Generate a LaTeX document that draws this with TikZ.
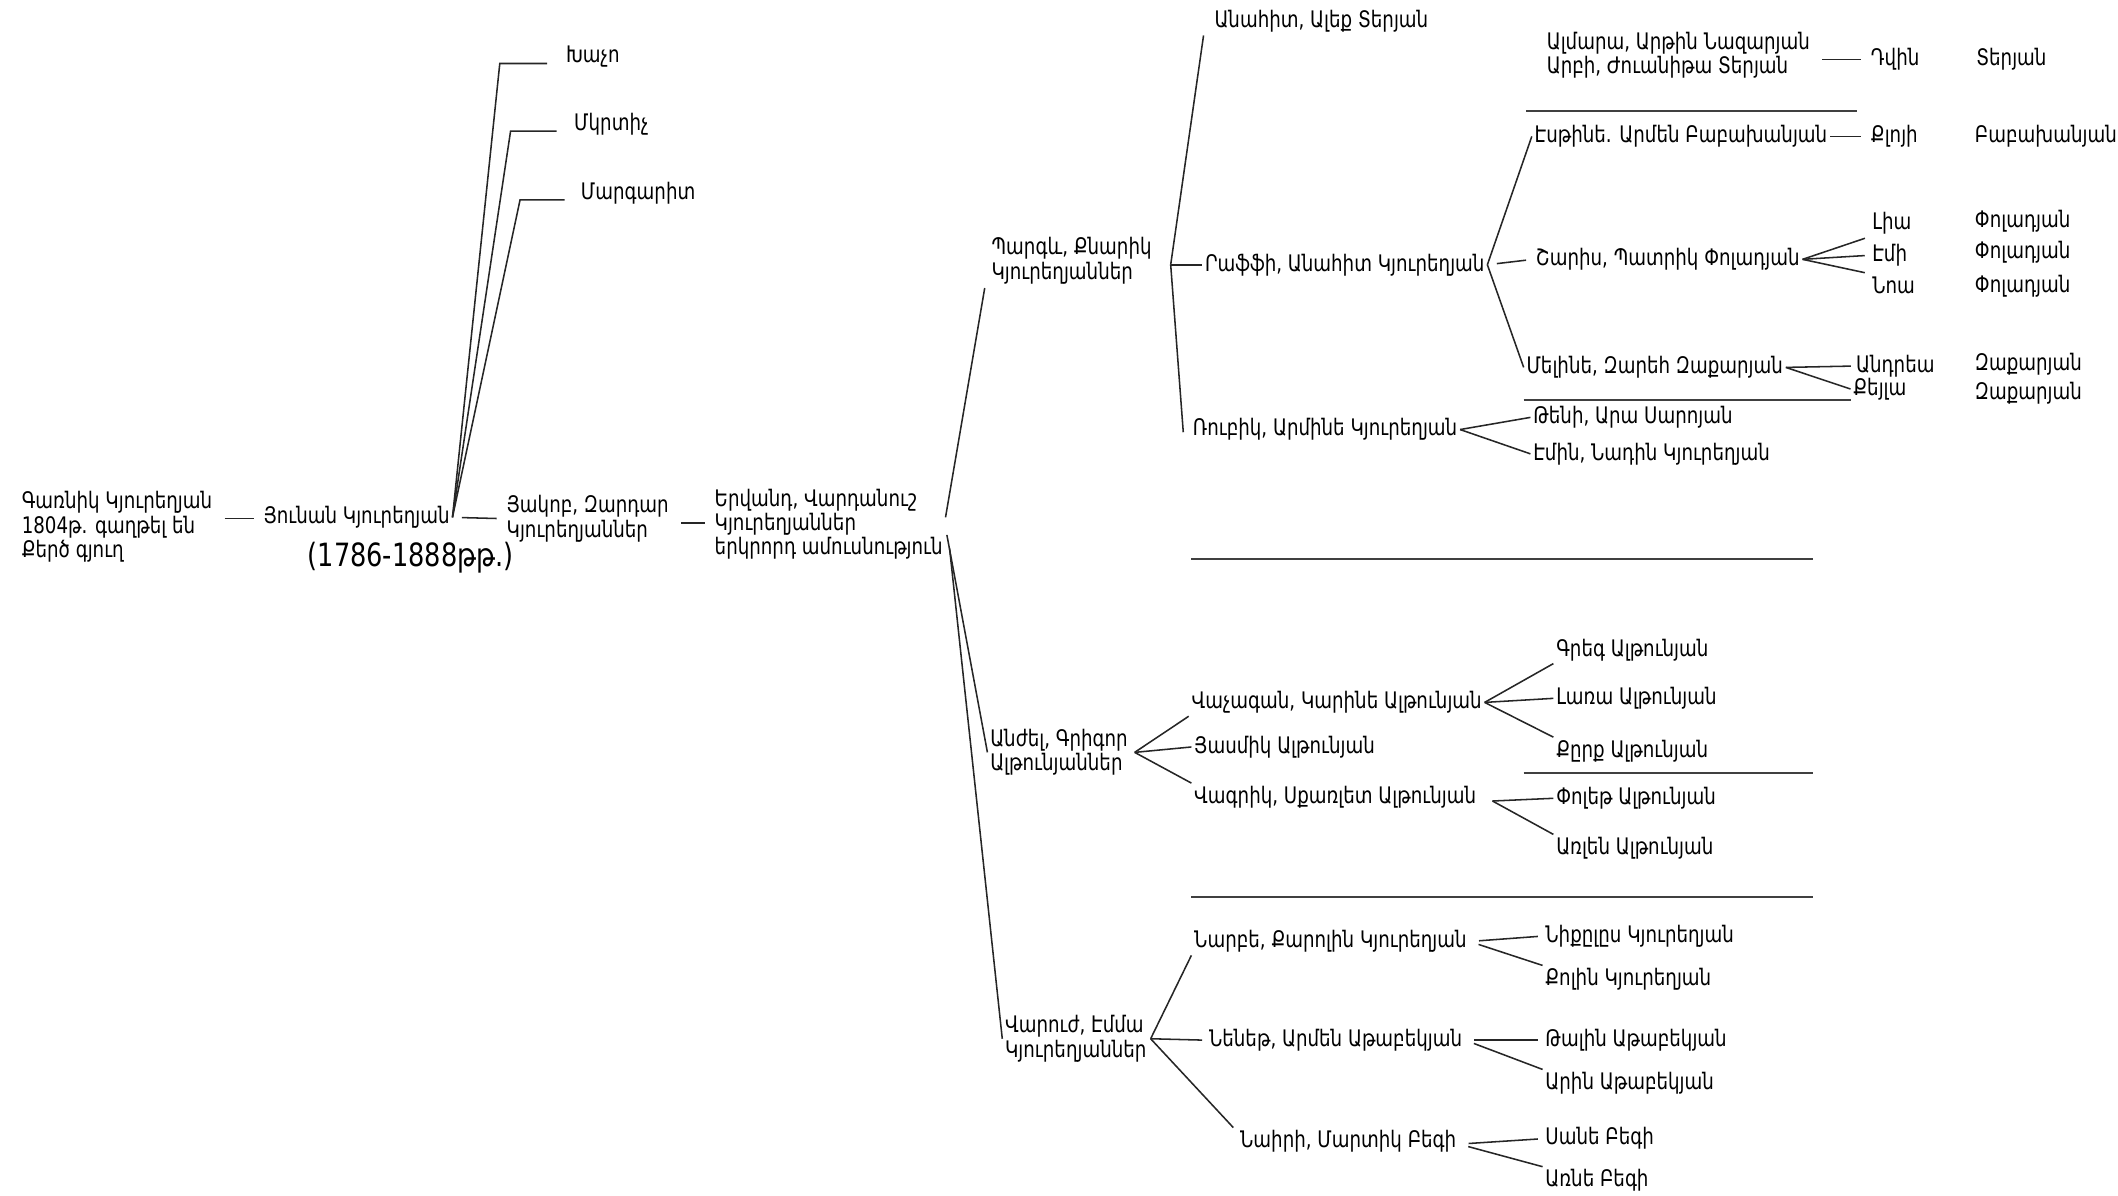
\documentclass[tikz,border=0pt]{standalone}
\usepackage{fontspec}
\setmainfont{DejaVu Sans}[FakeStretch=0.80]
\usetikzlibrary{calc}
\newcommand{\namefont}{\fontsize{9.6}{10.2}\selectfont}
\newcommand{\yearfont}{\fontsize{13.5}{14}\selectfont}
\tikzset{
  person/.style={anchor=west, inner sep=1pt, align=left, font=\namefont},
  link/.style={line width=0.65pt, black!85},
  gap/.style={link, shorten <=4pt, shorten >=3pt},
  divider/.style={line width=0.8pt, black!75}
}

\begin{document}
\begin{tikzpicture}[x=0.02cm, y=-0.02cm]

      \useasboundingbox (0,0) rectangle (1568,885);

      % First generations
      \node[person] (garnik) at (14,390) {Գառնիկ Կյուրեղյան\\1804թ. գաղթել են\\Քերծ գյուղ};
      \node[person] (yunan) at (193,383) {Յունան Կյուրեղյան};
      \node[font=\yearfont] (years) at (304,413) {(1786-1888թթ.)};
      \node[person] (khacho) at (417,42) {Խաչո};
      \node[person] (mkrtich) at (423,92) {Մկրտիչ};
      \node[person] (margarit) at (428,143) {Մարգարիտ};
      \node[person] (hakob) at (373,384) {Յակոբ, Զարդար\\Կյուրեղյաններ};
      \node[person] (ervand) at (527,388) {Երվանդ, Վարդանուշ\\Կյուրեղյաններ\\երկրորդ ամուսնություն};

      \draw[gap] ($(garnik.east)+(0,-6)$) -- (yunan.west |- 0,384);
      \draw[link] (yunan.east) -- ($(khacho.west)+(-47,5)$) -- ($(khacho.west)+(-12,5)$);
      \draw[link] (yunan.east) -- ($(mkrtich.west)+(-45,5)$) -- ($(mkrtich.west)+(-11,5)$);
      \draw[link] (yunan.east) -- ($(margarit.west)+(-43,5)$) -- ($(margarit.west)+(-10,5)$);
      \draw[gap] (yunan.east) -- (hakob.west);
      \draw[gap] ($(hakob.east)+(0,3)$) -- ($(ervand.west)+(0,-1)$);

      % Children of Ervand
      \node[person] (pargev) at (732,193) {Պարգև, Քնարիկ\\Կյուրեղյաններ};
      \node[person] (anzhel) at (731,557) {Անժել, Գրիգոր\\Ալթունյաններ};
      \node[person] (varuzh) at (742,769) {Վարուժ, Էմմա\\Կյուրեղյաններ};

      \draw[link] ($(ervand.east)+(0,-5)$) -- ($(pargev.south west)+(-3,1)$);
      \draw[link] ($(ervand.east)+(1,8)$) -- (anzhel.west);
      \draw[link] ($(ervand.east)+(3,18)$) -- (varuzh.west);

      % Pargev branch
      \coordinate (pf) at ($(pargev.east)+(12,3)$);
      \node[person] (anahit) at (897,16) {Անահիտ, Ալեք Տերյան};
      \node[person] (raffi) at (890,196) {Րաֆֆի, Անահիտ Կյուրեղյան};
      \node[person] (rubik) at (881,318) {Ռուբիկ, Արմինե Կյուրեղյան};
      \draw[link] (pf) -- ($(anahit.south west)+(-6,0)$);
      \draw[link] (pf) -- (raffi.west);
      \draw[link] (pf) -- ($(rubik.west)+(-5,2)$);

      \node[person] (almara) at (1143,41) {Ալմարա, Արթին Նազարյան\\Արբի, Ժուանիթա Տերյան};
      \node[person] (dvin) at (1383,44) {Դվին};
      \node[person] (sterian) at (1461,44) {Տերյան};
      \draw[gap] (almara.east |- dvin.west) -- (dvin.west);

      \node[person] (esthine) at (1134,101) {Էսթինե. Արմեն Բաբախանյան};
      \node[person] (kloyi) at (1383,101) {Քլոյի};
      \node[person] (sbabakh) at (1460,101) {Բաբախանյան};
      \node[person] (sharis) at (1135,192) {Շարիս, Պատրիկ Փոլադյան};
      \node[person] (lia) at (1384,165) {Լիա};
      \node[person] (emi) at (1384,189) {Էմի};
      \node[person] (noa) at (1384,211) {Նոա};
      \foreach \y/\n in {164/spol1, 187/spol2, 212/spol3}
        \node[person] (\n) at (1460,\y) {Փոլադյան};
      \node[person] (meline) at (1128,272) {Մելինե, Զարեհ Զաքարյան};
      \node[person] (andrea) at (1372,271) {Անդրեա};
      \node[person] (keyla) at (1370,288) {Քեյլա};
      \node[person] (szak1) at (1460,270) {Զաքարյան};
      \node[person] (szak2) at (1460,291) {Զաքարյան};

      \draw[link] (raffi.east) -- (esthine.west);
      \draw[gap] (raffi.east) -- (sharis.west);
      \draw[link] (raffi.east) -- (meline.west);
      \draw[link, shorten >=3pt] (esthine.east) -- (kloyi.west);
      \draw[link, shorten >=2pt] (sharis.east) -- (lia.south west);
      \draw[link, shorten >=2pt] (sharis.east) -- (emi.west);
      \draw[link, shorten >=2pt] (sharis.east) -- (noa.north west);
      \draw[link, shorten >=1pt] (meline.east) -- (andrea.west);
      \draw[link] (meline.east) -- (keyla.west);

      \node[person] (teni) at (1133,309) {Թենի, Արա Սարոյան};
      \node[person] (emin) at (1133,336) {Էմին, Նադին Կյուրեղյան};
      \draw[link] (rubik.east) -- (teni.west);
      \draw[link] (rubik.east) -- (emin.west);

      % Anzhel branch
      \coordinate (af) at ($(anzhel.east)+(3,0)$);
      \node[person] (vachagan) at (880,520) {Վաչագան, Կարինե Ալթունյան};
      \node[person] (yasmik) at (882,553) {Յասմիկ Ալթունյան};
      \node[person] (vagrik) at (882,590) {Վագրիկ, Սքառլետ Ալթունյան};
      \draw[link] (af) -- (vachagan.south west);
      \draw[link] (af) -- (yasmik.west);
      \draw[link] (af) -- (vagrik.north west);

      \node[person] (greg) at (1150,481) {Գրեգ Ալթունյան};
      \node[person] (lara) at (1150,517) {Լառա Ալթունյան};
      \node[person] (kirk) at (1150,556) {Քըրք Ալթունյան};
      \draw[link] (vachagan.east) -- (greg.south west);
      \draw[link] (vachagan.east) -- (lara.west);
      \draw[link] (vachagan.east) -- (kirk.north west);

      \coordinate (vf) at ($(vagrik.east)+(10,3)$);
      \node[person] (polet) at (1150,591) {Փոլեթ Ալթունյան};
      \node[person] (arlen) at (1150,628) {Առլեն Ալթունյան};
      \draw[link] (vf) -- (polet.west);
      \draw[link] (vf) -- (arlen.north west);

      % Varuzh branch
      \coordinate (vr) at ($(varuzh.east)+(1,0)$);
      \node[person] (narbe) at (882,697) {Նարբե, Քարոլին Կյուրեղյան};
      \node[person] (nenet) at (893,770) {Նենեթ, Արմեն Աթաբեկյան};
      \node[person] (nairi) at (916,845) {Նաիրի, Մարտիկ Բեգի};
      \draw[link] (vr) -- (narbe.south west);
      \draw[link] (vr) -- ($(nenet.west)+(-3,0)$);
      \draw[link] (vr) -- ($(nairi.north west)+(-3,0)$);

      \node[person] (nikolas) at (1142,693) {Նիքըլըս Կյուրեղյան};
      \node[person] (kolin) at (1142,725) {Քոլին Կյուրեղյան};
      \node[person] (talin) at (1142,770) {Թալին Աթաբեկյան};
      \node[person] (arin) at (1142,802) {Արին Աթաբեկյան};
      \node[person] (sane) at (1142,843) {Սանե Բեգի};
      \node[person] (arne) at (1142,874) {Առնե Բեգի};
      \draw[link, shorten <=4pt, shorten >=2pt] (narbe.east) -- (nikolas.west);
      \draw[link, shorten <=4pt] (narbe.east) -- (kolin.north west);
      \draw[link, shorten <=4pt, shorten >=2pt] (nenet.east) -- (talin.west);
      \draw[link, shorten <=4pt] (nenet.east) -- (arin.north west);
      \draw[link, shorten <=4pt, shorten >=2pt] ($(nairi.east)+(0,2)$) -- (sane.west);
      \draw[link, shorten <=4pt] ($(nairi.east)+(0,2)$) -- (arne.north west);

      % Dividing rules
      \draw[divider] (1130,82) -- (1375,82);
      \draw[divider] (1128,296) -- (1370,296);
      \draw[divider] (882,414) -- (1342,414);
      \draw[divider] (1128,572) -- (1342,572);
      \draw[divider] (882,664) -- (1342,664);

  \end{tikzpicture}
\end{document}
